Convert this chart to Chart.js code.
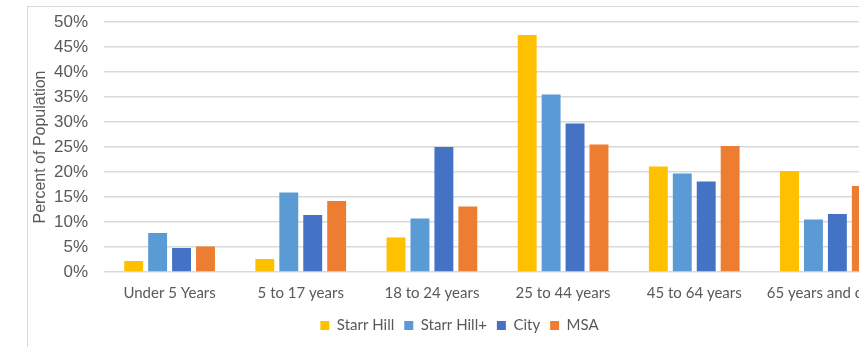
<!DOCTYPE html>
<html>
<head>
<meta charset="utf-8">
<script src="https://cdn.jsdelivr.net/npm/chart.js@4.4.1/dist/chart.umd.min.js"></script>
<style>
  html, body { margin: 0; padding: 0; background: #fff; overflow: hidden; }
  #frame {
    position: absolute;
    left: 27px;
    top: 6px;
    width: 880px;
    height: 360px;
    border: 1px solid #d9d9d9;
    background: #fff;
  }
</style>
</head>
<body>
<div id="frame"><canvas id="age-chart"></canvas></div>
<script>
// age groups and share of population (%) per area
const ageGroups = ["Under 5 Years", "5 to 17 years", "18 to 24 years", "25 to 44 years", "45 to 64 years", "65 years and over"];
const starrHill = [2.2, 2.6, 6.9, 47.4, 21.1, 20.2];
const starrHillPlus = [7.8, 15.9, 10.7, 35.5, 19.7, 10.5];
const city = [4.8, 11.4, 25.0, 29.7, 18.1, 11.6];
const msa = [5.1, 14.2, 13.1, 25.5, 25.2, 17.2];
const yTicks = [0, 5, 10, 15, 20, 25, 30, 35, 40, 45, 50];

const grey = "#595959";

let ctx = document.getElementById("age-chart").getContext("2d");
let chart = new Chart(ctx, {
  type: "bar",
  data: {
    labels: ageGroups,
    datasets: [
      { label: "Starr Hill", data: starrHill, backgroundColor: "#FFC000" },
      { label: "Starr Hill+", data: starrHillPlus, backgroundColor: "#5B9BD5" },
      { label: "City", data: city, backgroundColor: "#4472C4" },
      { label: "MSA", data: msa, backgroundColor: "#ED7D31" },
    ],
  },
  options: {
    responsive: true,
    maintainAspectRatio: false,
    animation: false,
    layout: {
      padding: { top: 15, left: 0, right: 17, bottom: 24 },
    },
    datasets: {
      bar: {
        categoryPercentage: 0.73,
        barPercentage: 0.79,
      },
    },
    scales: {
      x: {
        grid: { display: false },
        border: { display: false },
        ticks: {
          color: grey,
          padding: 4,
          maxRotation: 0,
          autoSkip: false,
          font: { family: "Lato", size: 15 },
        },
        afterFit: function (scale) {
          scale.height = 36;
        },
      },
      y: {
        min: 0,
        max: 50,
        afterBuildTicks: function (scale) {
          scale.ticks = yTicks.map((v) => ({ value: v }));
        },
        grid: {
          color: "#d9d9d9",
          lineWidth: 1.5,
          drawTicks: false,
        },
        border: { display: false },
        ticks: {
          color: grey,
          padding: 16,
          font: { family: "Liberation Sans", size: 17 },
          callback: (v) => v + "%",
        },
        title: {
          display: true,
          text: "Percent of Population",
          color: grey,
          padding: { top: 3, bottom: 0 },
          font: { family: "Liberation Sans", size: 16 },
        },
        afterFit: function (scale) {
          scale.width = 76;
          // layout padding already leaves room for the top label
          scale.paddingTop = 0;
        },
      },
    },
    plugins: {
      legend: {
        position: "bottom",
        labels: {
          color: grey,
          boxWidth: 9,
          boxHeight: 9,
          padding: 10,
          font: { family: "Lato", size: 15 },
        },
      },
      tooltip: { enabled: false },
    },
  },
});
</script>
</body>
</html>
